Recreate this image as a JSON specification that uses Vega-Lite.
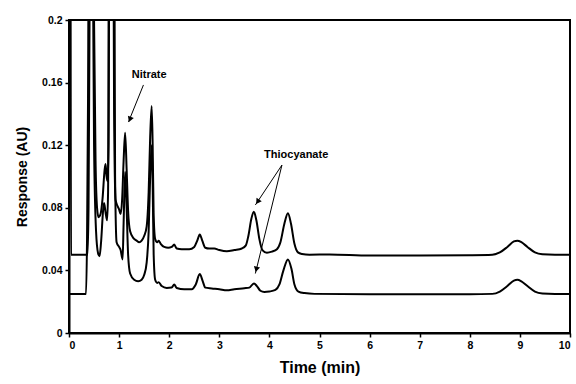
{
  "$schema": "https://vega.github.io/schema/vega-lite/v6.json",
  "width": 501,
  "height": 313,
  "autosize": {"type": "none"},
  "padding": {"left": 69, "top": 20, "right": 6, "bottom": 51},
  "config": {
    "font": "Liberation Sans",
    "view": {"stroke": "black", "strokeWidth": 2},
    "axis": {
      "grid": false,
      "domainColor": "black",
      "domainWidth": 2,
      "tickColor": "black",
      "tickWidth": 1.5,
      "tickSize": 4,
      "labelFont": "Liberation Sans",
      "labelFontWeight": "bold",
      "labelFontSize": 10.5,
      "labelColor": "black",
      "titleFont": "Liberation Sans",
      "titleFontWeight": "bold",
      "titleColor": "black"
    }
  },
  "datasets": {
    "traces": [
      {"series": "A", "t": 0.03, "v": 0.3}, {"series": "A", "t": 0.04, "v": 0.05}, {"series": "A", "t": 0.2, "v": 0.05}, {"series": "A", "t": 0.37, "v": 0.05},
      {"series": "A", "t": 0.39, "v": 0.08}, {"series": "A", "t": 0.41, "v": 0.2}, {"series": "A", "t": 0.43, "v": 0.3}, {"series": "A", "t": 0.48, "v": 0.3},
      {"series": "A", "t": 0.5, "v": 0.2}, {"series": "A", "t": 0.53, "v": 0.11}, {"series": "A", "t": 0.56, "v": 0.08}, {"series": "A", "t": 0.59, "v": 0.074},
      {"series": "A", "t": 0.63, "v": 0.076}, {"series": "A", "t": 0.67, "v": 0.086}, {"series": "A", "t": 0.71, "v": 0.104}, {"series": "A", "t": 0.73, "v": 0.108},
      {"series": "A", "t": 0.75, "v": 0.1}, {"series": "A", "t": 0.77, "v": 0.097}, {"series": "A", "t": 0.79, "v": 0.12}, {"series": "A", "t": 0.81, "v": 0.3},
      {"series": "A", "t": 0.88, "v": 0.3}, {"series": "A", "t": 0.9, "v": 0.14}, {"series": "A", "t": 0.93, "v": 0.085}, {"series": "A", "t": 0.97, "v": 0.081},
      {"series": "A", "t": 1.0, "v": 0.079}, {"series": "A", "t": 1.03, "v": 0.076}, {"series": "A", "t": 1.06, "v": 0.085}, {"series": "A", "t": 1.09, "v": 0.11},
      {"series": "A", "t": 1.12, "v": 0.128}, {"series": "A", "t": 1.15, "v": 0.105}, {"series": "A", "t": 1.18, "v": 0.078}, {"series": "A", "t": 1.22, "v": 0.065},
      {"series": "A", "t": 1.29, "v": 0.0605}, {"series": "A", "t": 1.35, "v": 0.059}, {"series": "A", "t": 1.4, "v": 0.058}, {"series": "A", "t": 1.45, "v": 0.059},
      {"series": "A", "t": 1.5, "v": 0.062}, {"series": "A", "t": 1.55, "v": 0.068}, {"series": "A", "t": 1.59, "v": 0.09}, {"series": "A", "t": 1.62, "v": 0.125},
      {"series": "A", "t": 1.65, "v": 0.145}, {"series": "A", "t": 1.67, "v": 0.12}, {"series": "A", "t": 1.69, "v": 0.075}, {"series": "A", "t": 1.72, "v": 0.06},
      {"series": "A", "t": 1.76, "v": 0.058}, {"series": "A", "t": 1.79, "v": 0.059}, {"series": "A", "t": 1.83, "v": 0.057}, {"series": "A", "t": 1.9, "v": 0.055},
      {"series": "A", "t": 1.98, "v": 0.0545}, {"series": "A", "t": 2.05, "v": 0.055}, {"series": "A", "t": 2.1, "v": 0.0565}, {"series": "A", "t": 2.15, "v": 0.054},
      {"series": "A", "t": 2.25, "v": 0.0535}, {"series": "A", "t": 2.4, "v": 0.0535}, {"series": "A", "t": 2.5, "v": 0.055}, {"series": "A", "t": 2.56, "v": 0.059},
      {"series": "A", "t": 2.61, "v": 0.063}, {"series": "A", "t": 2.66, "v": 0.059}, {"series": "A", "t": 2.72, "v": 0.0545}, {"series": "A", "t": 2.8, "v": 0.054},
      {"series": "A", "t": 2.9, "v": 0.054}, {"series": "A", "t": 3.0, "v": 0.053}, {"series": "A", "t": 3.15, "v": 0.0522}, {"series": "A", "t": 3.3, "v": 0.053},
      {"series": "A", "t": 3.45, "v": 0.054}, {"series": "A", "t": 3.53, "v": 0.056}, {"series": "A", "t": 3.58, "v": 0.062}, {"series": "A", "t": 3.64, "v": 0.073},
      {"series": "A", "t": 3.69, "v": 0.0775}, {"series": "A", "t": 3.74, "v": 0.072}, {"series": "A", "t": 3.8, "v": 0.06}, {"series": "A", "t": 3.86, "v": 0.053},
      {"series": "A", "t": 3.95, "v": 0.0513}, {"series": "A", "t": 4.05, "v": 0.052}, {"series": "A", "t": 4.15, "v": 0.0535}, {"series": "A", "t": 4.22, "v": 0.058},
      {"series": "A", "t": 4.3, "v": 0.07}, {"series": "A", "t": 4.37, "v": 0.0765}, {"series": "A", "t": 4.43, "v": 0.07}, {"series": "A", "t": 4.5, "v": 0.057},
      {"series": "A", "t": 4.57, "v": 0.0515}, {"series": "A", "t": 4.65, "v": 0.0505}, {"series": "A", "t": 4.8, "v": 0.05}, {"series": "A", "t": 5.2, "v": 0.0502},
      {"series": "A", "t": 6.0, "v": 0.0495}, {"series": "A", "t": 7.0, "v": 0.0495}, {"series": "A", "t": 8.0, "v": 0.0497}, {"series": "A", "t": 8.45, "v": 0.05},
      {"series": "A", "t": 8.6, "v": 0.0515}, {"series": "A", "t": 8.75, "v": 0.055}, {"series": "A", "t": 8.88, "v": 0.0585}, {"series": "A", "t": 8.95, "v": 0.059},
      {"series": "A", "t": 9.03, "v": 0.058}, {"series": "A", "t": 9.15, "v": 0.055}, {"series": "A", "t": 9.3, "v": 0.0515}, {"series": "A", "t": 9.45, "v": 0.0503},
      {"series": "A", "t": 9.7, "v": 0.05}, {"series": "A", "t": 10.0, "v": 0.05},
      {"series": "B", "t": 0.0, "v": 0.025}, {"series": "B", "t": 0.2, "v": 0.025}, {"series": "B", "t": 0.34, "v": 0.025}, {"series": "B", "t": 0.36, "v": 0.06},
      {"series": "B", "t": 0.38, "v": 0.15}, {"series": "B", "t": 0.4, "v": 0.3}, {"series": "B", "t": 0.46, "v": 0.3}, {"series": "B", "t": 0.5, "v": 0.12},
      {"series": "B", "t": 0.54, "v": 0.065}, {"series": "B", "t": 0.58, "v": 0.051}, {"series": "B", "t": 0.61, "v": 0.049}, {"series": "B", "t": 0.64, "v": 0.058},
      {"series": "B", "t": 0.68, "v": 0.078}, {"series": "B", "t": 0.7, "v": 0.083}, {"series": "B", "t": 0.73, "v": 0.077}, {"series": "B", "t": 0.76, "v": 0.072},
      {"series": "B", "t": 0.78, "v": 0.09}, {"series": "B", "t": 0.8, "v": 0.3}, {"series": "B", "t": 0.9, "v": 0.3}, {"series": "B", "t": 0.92, "v": 0.1},
      {"series": "B", "t": 0.95, "v": 0.058}, {"series": "B", "t": 1.0, "v": 0.055}, {"series": "B", "t": 1.03, "v": 0.053}, {"series": "B", "t": 1.07, "v": 0.047},
      {"series": "B", "t": 1.09, "v": 0.07}, {"series": "B", "t": 1.12, "v": 0.103}, {"series": "B", "t": 1.15, "v": 0.08}, {"series": "B", "t": 1.18, "v": 0.05},
      {"series": "B", "t": 1.22, "v": 0.038}, {"series": "B", "t": 1.3, "v": 0.034}, {"series": "B", "t": 1.38, "v": 0.033}, {"series": "B", "t": 1.45, "v": 0.034},
      {"series": "B", "t": 1.5, "v": 0.037}, {"series": "B", "t": 1.55, "v": 0.045}, {"series": "B", "t": 1.59, "v": 0.065}, {"series": "B", "t": 1.62, "v": 0.1},
      {"series": "B", "t": 1.65, "v": 0.12}, {"series": "B", "t": 1.67, "v": 0.095}, {"series": "B", "t": 1.69, "v": 0.05}, {"series": "B", "t": 1.72, "v": 0.034},
      {"series": "B", "t": 1.76, "v": 0.032}, {"series": "B", "t": 1.79, "v": 0.0325}, {"series": "B", "t": 1.85, "v": 0.03}, {"series": "B", "t": 1.95, "v": 0.0288},
      {"series": "B", "t": 2.05, "v": 0.029}, {"series": "B", "t": 2.1, "v": 0.031}, {"series": "B", "t": 2.15, "v": 0.0288}, {"series": "B", "t": 2.3, "v": 0.028},
      {"series": "B", "t": 2.45, "v": 0.028}, {"series": "B", "t": 2.53, "v": 0.031}, {"series": "B", "t": 2.61, "v": 0.0377}, {"series": "B", "t": 2.67, "v": 0.033},
      {"series": "B", "t": 2.72, "v": 0.029}, {"series": "B", "t": 2.85, "v": 0.0285}, {"series": "B", "t": 3.0, "v": 0.028}, {"series": "B", "t": 3.15, "v": 0.0273},
      {"series": "B", "t": 3.3, "v": 0.028}, {"series": "B", "t": 3.5, "v": 0.0286}, {"series": "B", "t": 3.6, "v": 0.029}, {"series": "B", "t": 3.69, "v": 0.0317},
      {"series": "B", "t": 3.75, "v": 0.03}, {"series": "B", "t": 3.82, "v": 0.027}, {"series": "B", "t": 3.9, "v": 0.0262}, {"series": "B", "t": 4.0, "v": 0.0265},
      {"series": "B", "t": 4.12, "v": 0.0275}, {"series": "B", "t": 4.2, "v": 0.031}, {"series": "B", "t": 4.28, "v": 0.04}, {"series": "B", "t": 4.37, "v": 0.047},
      {"series": "B", "t": 4.44, "v": 0.041}, {"series": "B", "t": 4.5, "v": 0.031}, {"series": "B", "t": 4.58, "v": 0.0265}, {"series": "B", "t": 4.7, "v": 0.0255},
      {"series": "B", "t": 4.9, "v": 0.025}, {"series": "B", "t": 6.0, "v": 0.0248}, {"series": "B", "t": 7.0, "v": 0.0248}, {"series": "B", "t": 8.0, "v": 0.0248},
      {"series": "B", "t": 8.45, "v": 0.025}, {"series": "B", "t": 8.6, "v": 0.0265}, {"series": "B", "t": 8.75, "v": 0.03}, {"series": "B", "t": 8.88, "v": 0.0335},
      {"series": "B", "t": 8.95, "v": 0.034}, {"series": "B", "t": 9.03, "v": 0.033}, {"series": "B", "t": 9.15, "v": 0.03}, {"series": "B", "t": 9.3, "v": 0.0265},
      {"series": "B", "t": 9.45, "v": 0.0253}, {"series": "B", "t": 9.7, "v": 0.025}, {"series": "B", "t": 10.0, "v": 0.025}
    ],
    "arrows": [
      {"name": "nitrate", "t": 1.486, "v": 0.1585, "t2": 1.187, "v2": 0.1348, "ht": 1.215, "hv": 0.1364},
      {"name": "thio1", "t": 4.25, "v": 0.1073, "t2": 3.72, "v2": 0.0818, "ht": 3.765, "hv": 0.0839},
      {"name": "thio2", "t": 4.25, "v": 0.1073, "t2": 3.72, "v2": 0.038, "ht": 3.739, "hv": 0.0406}
    ],
    "labels": [
      {"label": "Nitrate", "t": 1.6, "v": 0.1649},
      {"label": "Thiocyanate", "t": 4.534, "v": 0.1137}
    ]
  },
  "layer": [
    {
      "data": {"name": "traces"},
      "mark": {"type": "line", "color": "black", "strokeWidth": 2, "interpolate": "monotone", "clip": true},
      "encoding": {
        "x": {"field": "t", "type": "quantitative", "scale": {"domain": [0, 10], "nice": false},
          "axis": {"values": [0, 1, 2, 3, 4, 5, 6, 7, 8, 9, 10], "format": "d", "title": "Time (min)", "titleFontSize": 16, "titlePadding": 9, "labelPadding": 3}},
        "y": {"field": "v", "type": "quantitative", "scale": {"domain": [0, 0.2], "nice": false},
          "axis": {"values": [0, 0.04, 0.08, 0.12, 0.16, 0.2], "format": "~g", "title": "Response (AU)", "titleFontSize": 14, "titlePadding": 12, "labelPadding": 3}},
        "detail": {"field": "series", "type": "nominal"}
      }
    },
    {
      "data": {"name": "arrows"},
      "mark": {"type": "rule", "color": "black", "strokeWidth": 1},
      "encoding": {
        "x": {"field": "t", "type": "quantitative"},
        "y": {"field": "v", "type": "quantitative"},
        "x2": {"field": "t2"},
        "y2": {"field": "v2"}
      }
    },
    {
      "data": {"name": "arrows"},
      "transform": [{"filter": "datum.name == 'nitrate'"}],
      "mark": {"type": "point", "shape": "triangle-up", "filled": true, "color": "black", "opacity": 1, "size": 40, "angle": 201},
      "encoding": {"x": {"field": "ht", "type": "quantitative"}, "y": {"field": "hv", "type": "quantitative"}}
    },
    {
      "data": {"name": "arrows"},
      "transform": [{"filter": "datum.name == 'thio1'"}],
      "mark": {"type": "point", "shape": "triangle-up", "filled": true, "color": "black", "opacity": 1, "size": 40, "angle": 214},
      "encoding": {"x": {"field": "ht", "type": "quantitative"}, "y": {"field": "hv", "type": "quantitative"}}
    },
    {
      "data": {"name": "arrows"},
      "transform": [{"filter": "datum.name == 'thio2'"}],
      "mark": {"type": "point", "shape": "triangle-up", "filled": true, "color": "black", "opacity": 1, "size": 40, "angle": 194},
      "encoding": {"x": {"field": "ht", "type": "quantitative"}, "y": {"field": "hv", "type": "quantitative"}}
    },
    {
      "data": {"name": "labels"},
      "mark": {"type": "text", "font": "Liberation Sans", "fontWeight": "bold", "fontSize": 11, "color": "black", "align": "center", "baseline": "middle"},
      "encoding": {
        "x": {"field": "t", "type": "quantitative"},
        "y": {"field": "v", "type": "quantitative"},
        "text": {"field": "label", "type": "nominal"}
      }
    }
  ]
}
